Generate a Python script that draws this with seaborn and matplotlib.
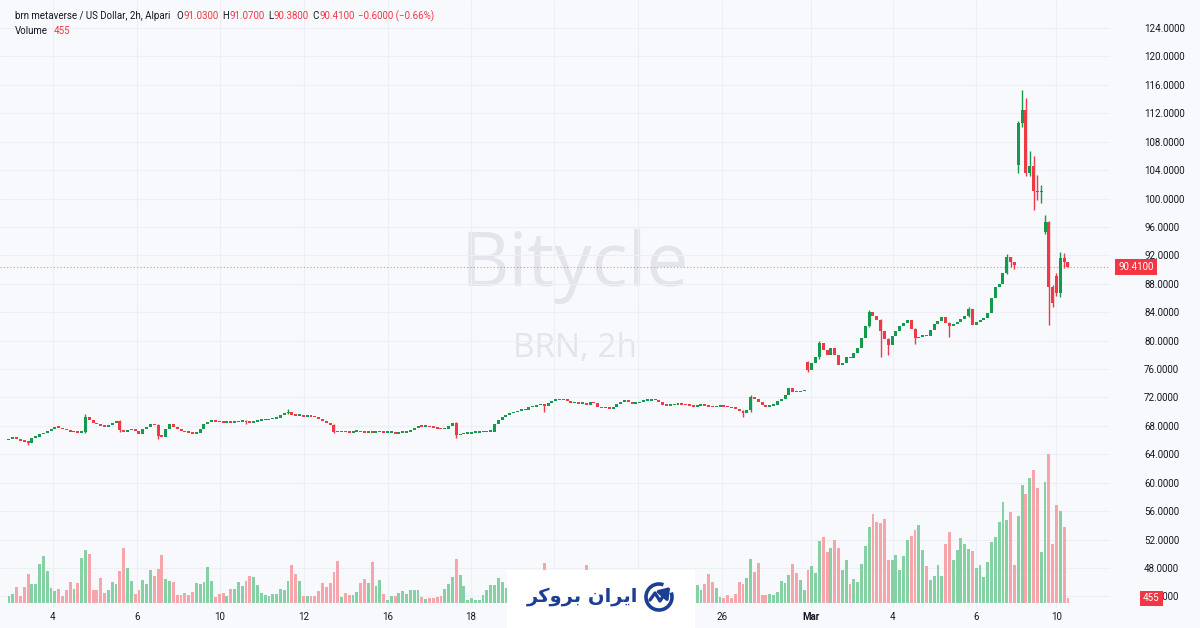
import numpy as np
import pandas as pd
import seaborn as sns
import matplotlib.pyplot as plt
import matplotlib.transforms as mtransforms
from matplotlib.patches import Arc

# ---- data (2h candles) ----
closes = [
    66.2, 66.4, 66.1, 65.9, 65.8, 65.6, 66.3, 66.5, 66.8, 67.0,
    67.3, 67.6, 67.8, 67.7, 67.5, 67.4, 67.1, 67.3, 67.0, 67.1,
    69.3, 68.8, 68.4, 68.2, 68.0, 67.9, 68.1, 68.4, 68.7, 67.4,
    67.2, 67.4, 67.5, 67.3, 66.9, 67.5, 67.9, 68.3, 68.1, 66.6,
    66.5, 67.6, 68.3, 67.9, 67.5, 67.3, 67.1, 67.0, 66.9, 67.0,
    67.6, 68.2, 68.6, 68.7, 68.6, 68.5, 68.4, 68.5, 68.4, 68.5,
    68.6, 68.7, 68.5, 68.4, 68.6, 68.7, 68.8, 68.8, 68.9, 69.0,
    69.1, 69.5, 69.8, 70.0, 69.6, 69.4, 69.4, 69.3, 69.4, 69.3,
    69.2, 69.0, 68.7, 68.4, 68.1, 67.2, 67.1, 67.2, 67.1, 67.0,
    67.2, 67.2, 67.1, 67.0, 67.2, 67.0, 67.1, 67.2, 67.0, 67.0,
    67.1, 66.9, 67.0, 67.0, 67.1, 67.4, 67.7, 68.0, 67.9, 67.9,
    67.8, 67.7, 67.6, 67.5, 67.6, 68.0, 68.4, 66.7, 66.8, 66.9,
    66.9, 67.0, 67.0, 67.1, 67.1, 67.2, 67.2, 68.3, 68.8, 69.3,
    69.6, 69.8, 69.9, 70.1, 70.2, 70.3, 70.6, 70.7, 70.9, 71.0,
    70.8, 71.2, 71.5, 71.6, 71.6, 71.7, 71.5, 71.2, 71.2, 71.1,
    71.2, 71.0, 71.3, 71.2, 70.6, 70.5, 70.5, 70.4, 70.7, 71.1,
    71.4, 71.7, 71.3, 71.1, 71.2, 71.4, 71.5, 71.5, 71.6, 71.6,
    71.4, 71.0, 70.8, 70.9, 71.0, 71.1, 71.0, 70.9, 70.8, 70.7,
    70.8, 70.9, 70.8, 70.7, 70.6, 70.7, 70.8, 70.7, 70.6, 70.5,
    70.4, 70.1, 69.8, 70.2, 72.1, 71.8, 71.4, 70.9, 70.7, 70.8,
    71.0, 71.5, 71.8, 72.3, 73.3, 72.8, 72.7, 72.9, 73.1, 75.9,
    76.8, 77.7, 79.6, 78.7, 78.0, 78.9, 78.0, 76.6, 76.8, 77.7,
    77.5, 78.3, 79.0, 80.3, 82.0, 84.0, 83.4, 82.9, 81.3, 80.2,
    79.4, 80.7, 81.4, 82.0, 82.5, 82.9, 81.7, 80.3, 80.5, 80.8,
    80.6, 81.5, 82.4, 82.8, 83.3, 82.5, 82.0, 82.3, 82.6, 83.1,
    83.5, 84.5, 82.2, 82.6, 82.9, 83.2, 83.9, 86.0, 87.5, 88.0,
    89.5, 91.8, 91.0, 90.6, 110.6, 112.4, 103.6, 104.6, 101.0, 100.9,
    101.1, 96.7, 87.6, 85.3, 86.7, 91.6, 91.01, 90.41,
]

# opens that differ from the previous close (session gaps)
gap_opens = {0: 66.0, 209: 77.0, 264: 104.7, 271: 95.3, 274: 89.1, 277: 91.03}

# visible wicks: index -> (high, low)
wicks = {
    5: (65.9, 65.3), 20: (69.7, 67.0), 29: (68.8, 67.2), 39: (68.2, 66.2),
    62: (68.8, 68.3), 73: (70.4, 69.7), 85: (68.2, 67.0), 117: (68.5, 66.3),
    140: (71.0, 70.0), 192: (70.2, 69.3), 194: (72.4, 69.9), 209: (77.2, 75.6),
    212: (79.9, 77.4), 225: (84.3, 81.9), 228: (83.0, 77.7), 230: (80.3, 78.0),
    237: (81.8, 79.5), 246: (82.6, 80.5), 251: (84.8, 83.3), 261: (92.2, 89.4),
    262: (91.8, 90.3), 263: (91.0, 90.1), 264: (110.9, 103.6), 265: (115.3, 110.0),
    266: (114.1, 103.2), 267: (106.7, 103.1), 268: (106.0, 98.4), 269: (103.3, 99.8),
    270: (101.9, 99.3), 271: (97.7, 95.0), 272: (96.9, 82.2), 273: (87.8, 84.7),
    274: (89.5, 86.3), 275: (92.5, 86.2), 276: (92.3, 90.2), 277: (91.07, 90.38),
}

volumes = [
    670, 930, 1600, 730, 1600, 2870, 1930, 1930, 3900, 4700,
    3200, 1500, 1170, 1400, 670, 1270, 2070, 1400, 2000, 4500,
    5270, 4870, 1270, 1330, 2500, 1000, 1330, 2130, 1870, 3170,
    5500, 3530, 2170, 900, 1330, 2300, 1930, 3270, 2670, 3400,
    4830, 2370, 2170, 2130, 800, 800, 1000, 800, 1100, 2000,
    1900, 2100, 3600, 2170, 600, 930, 1000, 670, 1430, 1430,
    2070, 1670, 2230, 2730, 2570, 1800, 1000, 800, 670, 900,
    930, 1400, 1270, 2170, 3770, 2870, 2170, 670, 670, 670,
    730, 1200, 1970, 1570, 1970, 3070, 4230, 600, 1000, 770,
    770, 1100, 2000, 2400, 2000, 4100, 1670, 2330, 930, 270,
    670, 670, 1000, 1170, 900, 1330, 1270, 1270, 600, 400,
    500, 470, 570, 670, 1400, 1930, 2570, 4400, 2770, 1730,
    330, 470, 330, 330, 770, 1330, 1770, 1830, 2500, 2100,
    1500, 1200, 900, 1100, 1300, 1700, 2200, 1600, 1800, 2400,
    4000, 2600, 1900, 1400, 1100, 1300, 1900, 2300, 1500, 1200,
    1700, 3800, 2200, 1400, 1800, 1300, 1000, 900, 1500, 2000,
    2400, 1800, 2100, 1600, 1200, 1000, 900, 1300, 1100, 800,
    1400, 2200, 2800, 1900, 1300, 1000, 900, 1200, 1500, 1170,
    1800, 1270, 1870, 2930, 2130, 1470, 600, 530, 800, 530,
    930, 2070, 1930, 2530, 4400, 3070, 4000, 800, 800, 930,
    800, 1130, 2200, 2000, 2800, 3930, 3000, 2330, 1330, 3330,
    3730, 3000, 6170, 6570, 5100, 5530, 6330, 5530, 3330, 4330,
    1870, 2400, 2130, 3930, 5670, 7600, 8930, 8130, 8000, 8400,
    4270, 4270, 4830, 3270, 4730, 6270, 6670, 7330, 7830, 5270,
    3670, 2270, 2730, 3800, 2730, 5930, 7130, 4270, 5330, 6470,
    5930, 5400, 5200, 3470, 3800, 2600, 4130, 6070, 6600, 8130,
    10130, 8270, 9130, 3800, 8670, 11800, 10930, 12500, 13330, 11470,
    5130, 12070, 14930, 5930, 9800, 9230, 7600, 455,
]

xtick_pos = [11.5, 33.5, 55.2, 77.2, 99.1, 120.8, 142.6, 164.6, 186.5, 209.8, 231.2, 252.9, 273.9]
xtick_labels = ['4', '6', '10', '12', '16', '18', '20', '24', '26', 'Mar', '4', '6', '10']
price_ticks = list(range(44, 125, 4))

title = "brn metaverse / US Dollar, 2h, Alpari"

# ---- derived series ----
n = len(closes)
idx = np.arange(n)
opens = []
for i in range(n):
    opens.append(gap_opens.get(i, closes[i - 1] if i else closes[0]))
opens = np.array(opens)
closes_a = np.array(closes)
up = closes_a >= opens
last_o, last_c = opens[-1], closes_a[-1]
last_h, last_l = wicks[n - 1]
chg = last_c - closes_a[-2]
chg_pct = chg / closes_a[-2] * 100

# ---- style ----
sns.set_theme(style="white")
plt.rcParams['font.family'] = ['Roboto', 'DejaVu Sans']

W, H = 1200, 628
BG = "#f8f9fd"
GRID = "#eceff5"
UP, DOWN = "#15994c", "#ee3a46"
VOL_UP, VOL_DOWN = "#86d1a4", "#f6a5aa"
TXT = "#131722"
RED_TXT = "#f23645"

fig = plt.figure(figsize=(W / 100, H / 100), dpi=100, facecolor=BG)
ax = fig.add_axes([0, 20 / H, 1110 / W, 608 / H], facecolor=BG)
ax2 = ax.twinx()

# volume (overlay scale at bottom)
vol_df = pd.DataFrame({
    'i': idx, 'volume': volumes,
    'dir': np.where(up, 'up', 'down'),
})
sns.barplot(data=vol_df, x='i', y='volume', hue='dir',
            palette={'up': VOL_UP, 'down': VOL_DOWN},
            native_scale=True, dodge=False, width=0.75, saturation=1,
            errorbar=None, legend=False, linewidth=0, ax=ax2)
ax2.set_ylim(-500, 60300)
ax2.set_yticks([])
ax2.set_ylabel('')
ax2.set_xlabel('')

# candles
body_lo = np.minimum(opens, closes_a)
body_h = np.maximum(np.abs(closes_a - opens), 0.22)
colors = np.where(up, UP, DOWN)
wi = np.array(list(wicks.keys()))
ax.vlines(wi, [wicks[k][1] for k in wi], [wicks[k][0] for k in wi],
          colors=colors[wi], linewidth=1, zorder=2)
ax.bar(idx, body_h, bottom=body_lo, width=0.78, color=colors, linewidth=0, zorder=3)

ax.axhline(last_c, color=RED_TXT, lw=0.8, ls=(0, (1, 2)), alpha=0.6, zorder=1)

ax.set_xlim(-2.35, 288.0)
ax.set_ylim(42.37, 127.94)
ax.set_xticks(xtick_pos)
ax.set_xticklabels(xtick_labels)
for lab in ax.get_xticklabels():
    if lab.get_text() == 'Mar':
        lab.set_fontweight('bold')
ax.set_yticks(price_ticks)
ax.set_yticklabels([f"{v:.4f}" for v in price_ticks])
ax.yaxis.tick_right()
ax.tick_params(axis='x', length=0, pad=3, labelsize=7, labelcolor=TXT)
ax.tick_params(axis='y', length=0, pad=24.5, labelsize=7, labelcolor=TXT)
ax.grid(True, color=GRID, lw=0.8)
ax.set_axisbelow(True)
ax2.xaxis.set_visible(False)
for a in (ax, ax2):
    for s in a.spines.values():
        s.set_visible(False)

# watermark
ax.text(0.518, 0.5625, "Bitycle", transform=ax.transAxes, fontsize=54,
        color="#e4e5ea", ha='center', va='center', zorder=0, family='Open Sans')
ax.text(0.518, 0.4276, "BRN, 2h", transform=ax.transAxes, fontsize=24,
        color="#e4e5ea", ha='center', va='center', zorder=0, family='Open Sans')

# last price / volume tags on the scale
tr = mtransforms.blended_transform_factory(ax.transAxes, ax.transData)
ax.text(1.0075, last_c, f"{last_c:.4f}", transform=tr, color='white', fontsize=7,
        ha='left', va='center', clip_on=False, zorder=5,
        bbox=dict(boxstyle='square,pad=0.3', fc=RED_TXT, ec='none'))
tr2 = mtransforms.blended_transform_factory(ax2.transAxes, ax2.transData)
ax2.text(1.0297, volumes[-1], f"{volumes[-1]}", transform=tr2, color='white', fontsize=7,
         ha='left', va='center', clip_on=False, zorder=5,
         bbox=dict(boxstyle='square,pad=0.3', fc=RED_TXT, ec='none'))

# header
renderer = fig.canvas.get_renderer()


def write_row(x_px, y_px, parts, size=7):
    x = x_px
    for s, c, gap in parts:
        t = fig.text(x / W, 1 - y_px / H, s, color=c, fontsize=size, ha='left', va='center')
        x += t.get_window_extent(renderer).width + gap


write_row(15, 16, [
    (title, TXT, 6),
    ("O", TXT, 0), (f"{last_o:.4f}", RED_TXT, 4),
    ("H", TXT, 0), (f"{last_h:.4f}", RED_TXT, 4),
    ("L", TXT, 0), (f"{last_l:.4f}", RED_TXT, 4),
    ("C", TXT, 0), (f"{last_c:.4f}", RED_TXT, 4),
    (f"\u2212{abs(chg):.4f} (\u2212{abs(chg_pct):.2f}%)", RED_TXT, 0),
])
write_row(15, 31, [("Volume", TXT, 6), (f"{volumes[-1]}", RED_TXT, 0)])

# broker logo box
lax = fig.add_axes([507 / W, 0, 188 / W, 58 / H], facecolor='white')
lax.set_xlim(0, 188)
lax.set_ylim(0, 58)
lax.set_xticks([])
lax.set_yticks([])
for s in lax.spines.values():
    s.set_visible(False)
logo_blue = "#1d3f93"
brand = "\uFEAE\uFB90\uFEED\uFEAE\uFE91 \uFEE5\uFE8D\uFEAE\uFBFE\uFE8D"
lax.text(76, 31, brand, fontsize=14, fontweight='bold', color=logo_blue,
         ha='center', va='center', family='DejaVu Sans')
lax.add_patch(Arc((152, 31), 26, 26, theta1=70, theta2=20, lw=2.6, color=logo_blue))
lax.plot([143, 148, 153, 158], [28, 35, 27, 35], color=logo_blue, lw=2.4,
         solid_capstyle='round', solid_joinstyle='round')
lax.annotate('', xy=(165, 43), xytext=(157, 34),
             arrowprops=dict(arrowstyle='-|>,head_length=0.5,head_width=0.35',
                             color=logo_blue, lw=2.4))

fig.savefig("out.png", dpi=100, facecolor=BG)
